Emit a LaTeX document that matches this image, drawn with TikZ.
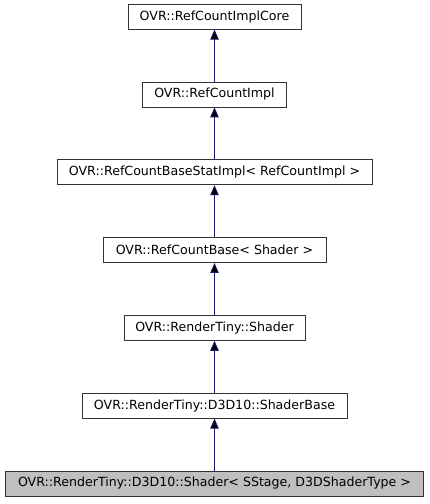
\documentclass[tikz,border=0pt]{standalone}
\usepackage{fontspec}
\setmainfont{DejaVu Sans}
\usetikzlibrary{positioning, arrows.meta}

\definecolor{edgeblue}{HTML}{191970}
\definecolor{leafgray}{HTML}{BFBFBF}

\tikzset{
  cls/.style={draw=black!80, fill=white, line width=0.8pt, minimum height=25pt,
    inner xsep=2pt, font=\fontsize{12.6}{14}\selectfont},
  leaf/.style={cls, fill=leafgray},
  inh/.style={draw=edgeblue, line width=0.8pt, -{Triangle[length=10pt, width=8.5pt]}}
}

\begin{document}
\begin{tikzpicture}[x=1pt, y=1pt, node distance=52pt]
  \useasboundingbox (0,0) rectangle (429,504);

  \node[leaf, minimum width=418pt] (shader) at (214.5,20.5) {OVR::RenderTiny::D3D10::Shader< SStage, D3DShaderType >};
  \node[cls, minimum width=265pt] (base) [above=of shader] {OVR::RenderTiny::D3D10::ShaderBase};
  \node[cls, minimum width=181pt] (tinyshader) [above=of base] {OVR::RenderTiny::Shader};
  \node[cls, minimum width=223pt] (rcbase) [above=of tinyshader] {OVR::RefCountBase< Shader >};
  \node[cls, minimum width=315pt] (rcstat) [above=of rcbase] {OVR::RefCountBaseStatImpl< RefCountImpl >};
  \node[cls, minimum width=144pt] (rcimpl) [above=of rcstat] {OVR::RefCountImpl};
  \node[cls, minimum width=173pt] (rccore) [above=of rcimpl] {OVR::RefCountImplCore};

  \path[inh]
    (shader) edge (base)
    (base) edge (tinyshader)
    (tinyshader) edge (rcbase)
    (rcbase) edge (rcstat)
    (rcstat) edge (rcimpl)
    (rcimpl) edge (rccore);
\end{tikzpicture}
\end{document}
